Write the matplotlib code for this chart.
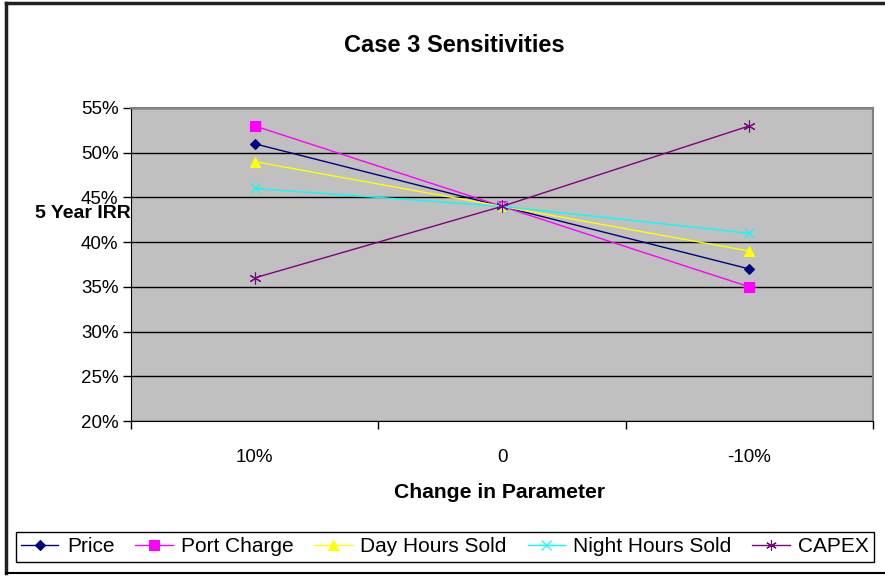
import matplotlib.pyplot as plt
from matplotlib.lines import Line2D
from matplotlib.ticker import FixedLocator, PercentFormatter

plt.rcParams['font.family'] = ['Liberation Sans', 'DejaVu Sans']

categories = ["10%", "0", "-10%"]
price = [51, 44, 37]
port_charge = [53, 44, 35]
day_hours = [49, 44, 39]
night_hours = [46, 44, 41]
capex = [36, 44, 53]

series = [
    ("Price", price, "#000080", "D", 5.5),
    ("Port Charge", port_charge, "#FF00FF", "s", 7.5),
    ("Day Hours Sold", day_hours, "#FFFF00", "^", 7.5),
    ("Night Hours Sold", night_hours, "#00FFFF", "x", 7.5),
    ("CAPEX", capex, "#800080", (6, 2, 0), 8.5),
]

fig = plt.figure(figsize=(8.85, 5.85), dpi=100)
ax = fig.add_axes([131 / 885, 1 - 421 / 585, 742 / 885, 313 / 585])
ax.set_facecolor("#C0C0C0")

x = list(range(len(categories)))
for name, vals, col, mk, ms in series:
    ax.plot(x, vals, color=col, lw=1, marker=mk, markersize=ms,
            markeredgewidth=0.8, markerfacecolor=col, markeredgecolor=col,
            label=name)

ax.set_xlim(-0.5, len(categories) - 0.5)
ax.set_ylim(20, 55)

# category labels sit between the boundary ticks
ax.xaxis.set_major_locator(FixedLocator([i - 0.5 for i in range(len(categories) + 1)]))
ax.xaxis.set_minor_locator(FixedLocator(x))
ax.set_xticklabels([""] * (len(categories) + 1))
ax.set_xticklabels(categories, minor=True)
ax.tick_params(axis="x", which="major", length=6, width=1, color="black")
ax.tick_params(axis="x", which="minor", length=0, pad=20, labelsize=13.5)

ax.set_yticks(range(20, 56, 5))
ax.yaxis.set_major_formatter(PercentFormatter(decimals=0))
ax.tick_params(axis="y", length=6, width=1, labelsize=13.5, pad=3)

ax.grid(axis="y", color="black", lw=1)
ax.set_axisbelow(True)
for side in ("left", "bottom"):
    ax.spines[side].set_color("black")
for side in ("top", "right"):
    ax.spines[side].set_color("#808080")
    ax.spines[side].set_linewidth(1.5)

fig.text(454 / 885, 1 - 45 / 585, "Case 3 Sensitivities", ha="center", va="center",
         fontsize=17, fontweight="bold")
fig.text(83 / 885, 1 - 214 / 585, "5 Year IRR", ha="center", va="center",
         fontsize=14, fontweight="bold")
fig.text(500 / 885, 1 - 492 / 585, "Change in Parameter", ha="center", va="center",
         fontsize=15.2, fontweight="bold")

leg = fig.legend(loc="center", bbox_to_anchor=(445 / 885, 1 - 547 / 585), ncol=5,
                 fontsize=15, frameon=True, fancybox=False, framealpha=1,
                 edgecolor="black", handlelength=1.8, handletextpad=0.4,
                 columnspacing=1.0, borderpad=0.25, markerscale=0.9)
leg.get_frame().set_linewidth(1)

# outer chart frame
fig.add_artist(Line2D([6 / 885, 6 / 885], [1 - 3 / 585, 1 - 573 / 585], color="#202020", lw=2.5))
fig.add_artist(Line2D([6 / 885, 1], [1 - 3 / 585, 1 - 3 / 585], color="#202020", lw=2.5))
fig.add_artist(Line2D([6 / 885, 1], [1 - 573 / 585, 1 - 573 / 585], color="black", lw=1.5))

fig.savefig("out.png", dpi=100)
